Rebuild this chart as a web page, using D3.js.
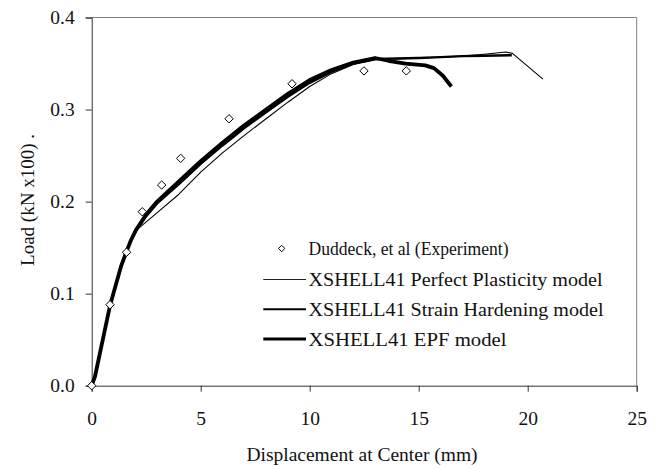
<!DOCTYPE html>
<html><head><meta charset="utf-8">
<script src="https://cdn.jsdelivr.net/npm/d3@7"></script>
<style>
body{margin:0;background:#fff;}
svg{display:block;}
</style></head>
<body>
<svg id="chart" width="664" height="469"></svg>
<script>
// ---- data ----
const xTicks = [0, 5, 10, 15, 20, 25];
const yTicks = [0.0, 0.1, 0.2, 0.3, 0.4];

const expX = [0, 0.84, 1.6, 2.32, 3.21, 4.08, 6.3, 9.19, 12.49, 14.43];
const expY = [0, 0.088, 0.145, 0.189, 0.218, 0.247, 0.29, 0.328, 0.342, 0.342];

const ppX = [0, 0.15, 0.85, 1.35, 1.6, 1.8, 2.0, 3.1, 4, 5, 6, 7, 8, 9, 10, 11, 12, 13, 14, 15, 16, 17, 18, 19.0, 19.3, 20.7];
const ppY = [0, 0.01, 0.088, 0.13, 0.146, 0.158, 0.168, 0.19, 0.208, 0.232, 0.253, 0.272, 0.29, 0.308, 0.325, 0.339, 0.349, 0.354, 0.355, 0.356, 0.357, 0.358, 0.36, 0.3625, 0.361, 0.333];

const shX = [0, 0.15, 0.85, 1.35, 1.6, 1.8, 2.05, 2.5, 3, 4, 5, 6, 7, 8, 9, 10, 11, 12, 13, 14, 15, 16, 17, 18, 19.27];
const shY = [0, 0.01, 0.088, 0.13, 0.146, 0.158, 0.169, 0.184, 0.198, 0.219, 0.241, 0.261, 0.28, 0.297, 0.314, 0.329, 0.341, 0.35, 0.355, 0.3555, 0.356, 0.357, 0.358, 0.3585, 0.359];

const epfX = [0, 0.15, 0.85, 1.35, 1.6, 1.8, 2.05, 2.5, 3, 4, 5, 6, 7, 8, 9, 10, 11, 12, 13, 13.6, 14.4, 15.3, 15.7, 16.1, 16.5];
const epfY = [0, 0.01, 0.088, 0.13, 0.146, 0.158, 0.17, 0.186, 0.2, 0.222, 0.244, 0.264, 0.283, 0.3, 0.317, 0.332, 0.343, 0.351, 0.356, 0.353, 0.35, 0.348, 0.345, 0.337, 0.325];

const legendLabels = [
  "Duddeck, et al (Experiment)",
  "XSHELL41 Perfect Plasticity model",
  "XSHELL41 Strain Hardening model",
  "XSHELL41 EPF model"
];

// ---- chart ----
const FONT = '"Liberation Serif"';
const svg = d3.select("#chart");
const x = d3.scaleLinear().domain([0, 25]).range([91.7, 636.7]);
const y = d3.scaleLinear().domain([0, 0.4]).range([385.7, 17.5]);

// frame (top/right)
svg.append("path")
  .attr("d", `M${x(0)},${y(0.4)}H${x(25)}V${y(0)}`)
  .attr("fill", "none").attr("stroke", "#808080").attr("stroke-width", 1);

// axes
const xAxis = svg.append("g").attr("transform", `translate(0,${y(0)})`)
  .call(d3.axisBottom(x).tickValues(xTicks).tickSize(6).tickPadding(19).tickFormat(d3.format("d")));
const yAxis = svg.append("g").attr("transform", `translate(${x(0)},0)`)
  .call(d3.axisLeft(y).tickValues(yTicks).tickSize(6).tickPadding(11).tickFormat(d3.format(".1f")));
[xAxis, yAxis].forEach(g => {
  g.attr("font-family", null).attr("font-size", null);
  g.select(".domain").attr("stroke", "#333");
  g.selectAll(".tick line").attr("stroke", "#333");
  g.selectAll("text").style("font-family", FONT).attr("font-size", 19.5).attr("fill", "#111");
});

// axis titles
svg.append("text").attr("x", 362).attr("y", 461).attr("text-anchor", "middle")
  .style("font-family", FONT).attr("font-size", 19.5).attr("fill", "#111")
  .text("Displacement at Center (mm)");
svg.append("text").attr("transform", "translate(34,200) rotate(-90)").attr("text-anchor", "middle")
  .style("font-family", FONT).attr("font-size", 19).attr("fill", "#111")
  .text("Load (kN x100) .");

// lines
const line = d3.line().x(d => x(d[0])).y(d => y(d[1])).curve(d3.curveLinear);
const series = [
  {xs: ppX, ys: ppY, w: 1.1},
  {xs: shX, ys: shY, w: 2.4},
  {xs: epfX, ys: epfY, w: 3.8}
];
series.forEach(s => {
  svg.append("path").datum(s.xs.map((v, i) => [v, s.ys[i]]))
    .attr("d", line).attr("fill", "none").attr("stroke", "#000")
    .attr("stroke-width", s.w).attr("stroke-linejoin", "round").attr("stroke-linecap", "butt");
});

// diamonds
const diamond = (cx, cy, r) => `M${cx},${cy - r}L${cx + r},${cy}L${cx},${cy + r}L${cx - r},${cy}Z`;
svg.append("g").selectAll("path").data(expX.map((v, i) => [v, expY[i]])).join("path")
  .attr("d", d => diamond(x(d[0]), y(d[1]), 4.2))
  .attr("fill", "#fff").attr("stroke", "#000").attr("stroke-width", 1);

// legend
const lg = svg.append("g");
const rowY = [248.5, 279.5, 309.3, 339];
const rowW = [200, 294, 295, 198];
const lx1 = 263.3, lx2 = 306, tx = 308.5;
lg.append("path").attr("d", diamond((lx1 + lx2) / 2 - 3, rowY[0], 3.2))
  .attr("fill", "#fff").attr("stroke", "#000").attr("stroke-width", 1);
[1, 2, 3].forEach(i => {
  lg.append("line").attr("x1", lx1).attr("x2", lx2).attr("y1", rowY[i]).attr("y2", rowY[i])
    .attr("stroke", "#000").attr("stroke-width", series[i - 1].w * 0.8);
});
legendLabels.forEach((t, i) => {
  lg.append("text").attr("x", tx).attr("y", rowY[i] + 6.5)
    .style("font-family", FONT).attr("font-size", 19.5).attr("fill", "#111")
    .attr("textLength", rowW[i]).attr("lengthAdjust", "spacingAndGlyphs")
    .text(t);
});
</script>
</body></html>
